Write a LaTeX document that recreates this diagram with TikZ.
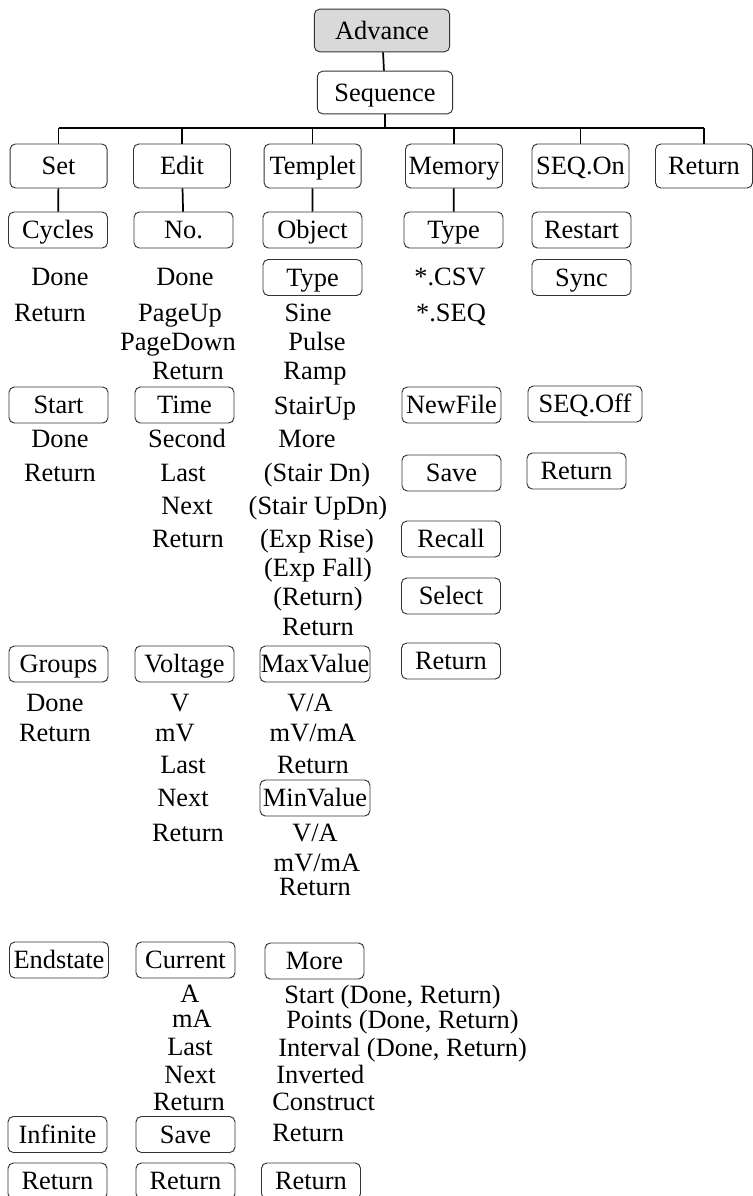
\documentclass[tikz,border=0pt]{standalone}
\usepackage{fontspec}
\setmainfont{Liberation Serif}
\usepackage{xcolor}
\definecolor{rootgray}{RGB}{217,217,217}

\begin{document}
\begin{tikzpicture}[x=0.75pt,y=-0.75pt,
    every node/.style={font=\fontsize{19.8}{23}\selectfont, text height=13pt, text depth=0pt, inner sep=0pt},
    box/.style={draw=black!80, line width=0.7pt, rounded corners=4pt, minimum width=74.25pt, minimum height=27pt},
    widebox/.style={box, minimum width=82.5pt},
    topbox/.style={box, minimum width=72.75pt, minimum height=33pt},
    headbox/.style={box, minimum width=101.5pt, minimum height=32pt},
    wire/.style={line width=1.3pt}]
    \useasboundingbox (0,0) rectangle (753,1196);
    % root
    \node[headbox, fill=rootgray] (adv) at (382,30.5) {Advance};
    \node[headbox] (seq) at (385,92.5) {Sequence};
    % first level
    \node[topbox] (set) at (58.6,166) {Set};
    \node[topbox] (edit) at (182,166) {Edit};
    \node[topbox] (tmpl) at (312.6,166) {Templet};
    \node[topbox] (mem) at (454,166) {Memory};
    \node[topbox] (seqon) at (580.5,166) {SEQ.On};
    \node[topbox] (ret) at (704,166) {Return};
    \coordinate (bus) at (0,127.7);
    \draw[wire] (adv) -- (seq);
    \draw[wire] (seq.south) -- (seq.south |- bus);
    \draw[wire] (set |- bus) -- (ret |- bus);
    \foreach \n in {set,edit,tmpl,mem,seqon,ret}
        \draw[wire] (\n |- bus) -- (\n.north);
    % Set column
    \node[box] (cyc) at (58,230) {Cycles};
    \node (cycdone) at (60,277) {Done};
    \node (cycret) at (50,313) {Return};
    \node[box] (start) at (58.5,405) {Start};
    \node (stdone) at (60,439) {Done};
    \node (stret) at (60,473) {Return};
    \node[box] (grp) at (58.5,664) {Groups};
    \node (grpdone) at (55,703) {Done};
    \node (grpret) at (55,733) {Return};
    \node[box] (endst) at (59,960) {Endstate};
    \node[box] (inf) at (57.5,1134.5) {Infinite};
    \node[box] (setret) at (57.5,1181) {Return};
    \draw[wire] (set) -- (cyc);
    % Edit column
    \node[box] (no) at (183.5,230) {No.};
    \node (nodone) at (185,277) {Done};
    \node (pgup) at (180,313) {PageUp};
    \node (pgdn) at (178,342) {PageDown};
    \node (noret) at (188,371) {Return};
    \node[box] (time) at (184.5,405) {Time};
    \node (sec) at (187,439) {Second};
    \node (tlast) at (183,473) {Last};
    \node (tnext) at (187,506) {Next};
    \node (tret) at (188,539) {Return};
    \node[box] (volt) at (184.5,664) {Voltage};
    \node (vv) at (180,703) {V};
    \node (vmv) at (175,733) {mV};
    \node (vlast) at (183,765) {Last};
    \node (vnext) at (183,798) {Next};
    \node (vret) at (188,833) {Return};
    \node[box] (curr) at (185.5,960) {Current};
    \node (ca) at (190,994) {A};
    \node (cma) at (192,1019) {mA};
    \node (clast) at (190,1047) {Last};
    \node (cnext) at (190,1075) {Next};
    \node (cret) at (189,1102) {Return};
    \node[box] (esave) at (185.5,1134.5) {Save};
    \node[box] (editret) at (185.5,1181) {Return};
    \draw[wire] (edit) -- (no);
    % Templet column
    \node[box] (obj) at (312.5,230) {Object};
    \node[box] (ttype) at (312.5,277.5) {Type};
    \node (sine) at (308,313) {Sine};
    \node (pulse) at (317,342) {Pulse};
    \node (ramp) at (315,371) {Ramp};
    \node (stup) at (315,406) {StairUp};
    \node (tmore) at (307,439) {More};
    \node (stdn) at (317,473) {(Stair Dn)};
    \node (stupdn) at (318,506) {(Stair UpDn)};
    \node (exprise) at (317,539) {(Exp Rise)};
    \node (expfall) at (318,568) {(Exp Fall)};
    \node (pret) at (318,597) {(Return)};
    \node (ttret) at (318,627) {Return};
    \node[widebox] (maxv) at (315,664) {MaxValue};
    \node (maxva) at (310,703) {V/A};
    \node (maxmv) at (313,733) {mV/mA};
    \node (maxret) at (313,765) {Return};
    \node[widebox] (minv) at (315,798) {MinValue};
    \node (minva) at (315,833) {V/A};
    \node (minmv) at (317,863) {mV/mA};
    \node (minret) at (315,887) {Return};
    \node[box] (more) at (314.5,961) {More};
    \node[anchor=west] (mstart) at (284,995) {Start (Done, Return)};
    \node[anchor=west] (mpts) at (286,1020) {Points (Done, Return)};
    \node[anchor=west] (mint) at (278,1048) {Interval (Done, Return)};
    \node[anchor=west] (minv2) at (276,1075) {Inverted};
    \node[anchor=west] (mcons) at (272,1102) {Construct};
    \node[anchor=west] (mret) at (272,1133) {Return};
    \node[box] (tmplret) at (311,1181) {Return};
    \draw[wire] (tmpl) -- (obj);
    % Memory column
    \node[box] (mtype) at (453.5,230) {Type};
    \node (csv) at (450,277) {*.CSV};
    \node (seqf) at (451,313) {*.SEQ};
    \node[box] (newf) at (451.5,405) {NewFile};
    \node[box] (msave) at (451.5,473) {Save};
    \node[box] (recall) at (451,539) {Recall};
    \node[box] (select) at (451,596) {Select};
    \node[box] (memret) at (451,661) {Return};
    \draw[wire] (mem) -- (mtype);
    % SEQ.On column
    \node[box] (rst) at (581.5,230) {Restart};
    \node[box] (sync) at (581.5,277.5) {Sync};
    \node[box, minimum width=85.5pt] (seqoff) at (585,404) {SEQ.Off};
    \node[box] (seqret) at (576.5,471) {Return};
\end{tikzpicture}
\end{document}
